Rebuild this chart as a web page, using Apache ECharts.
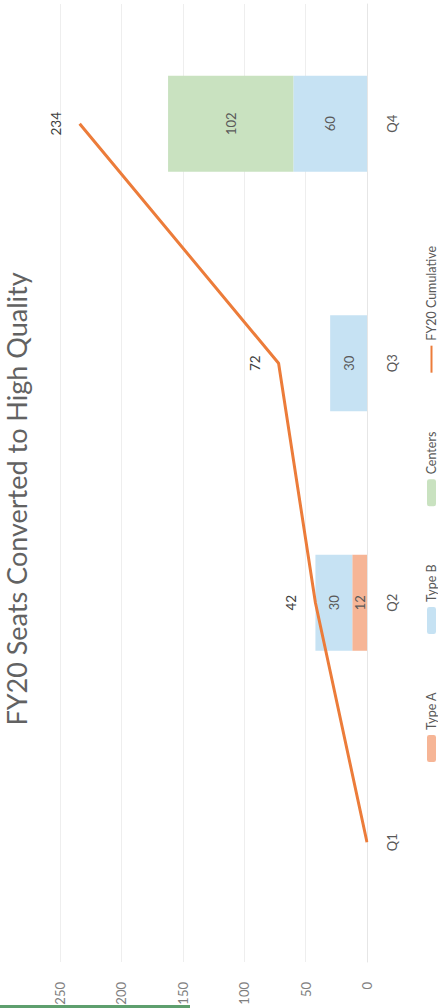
<!DOCTYPE html>
<html>
<head>
<meta charset="utf-8">
<script src="https://cdn.jsdelivr.net/npm/echarts@6/dist/echarts.min.js"></script>
<style>
html,body{margin:0;padding:0;background:#fff;overflow:hidden;width:438px;height:1008px;}
#chart{position:absolute;left:0;top:0;width:1008px;height:438px;transform-origin:0 0;transform:translate(0,1008px) rotate(-90deg);}
</style>
</head>
<body>
<div id="chart"></div>
<script>
var titleText = 'FY20 Seats Converted to High Quality';
var categories = ['Q1', 'Q2', 'Q3', 'Q4'];
var typeA = ['-', 12, '-', '-'];
var typeB = ['-', 30, 30, 60];
var centers = ['-', '-', '-', 102];
var cumulative = [0, 42, 72, 234];
var valueTicks = [0, 50, 100, 150, 200, 250];

var FONT = 'Lato, "Open Sans", sans-serif';
var chart = echarts.init(document.getElementById('chart'), null, {renderer: 'svg', width: 1008, height: 438});
var barLabel = {show: true, position: 'inside', color: '#595959', fontSize: 13, fontFamily: FONT};
chart.setOption({
  animation: false,
  backgroundColor: '#ffffff',
  title: {
    text: titleText, left: 504, top: -2, textAlign: 'center',
    textStyle: {fontFamily: FONT, fontSize: 27, fontWeight: 'normal', color: '#626262'}
  },
  legend: {
    data: ['Type A', 'Type B', 'Centers', {name: 'FY20 Cumulative', itemStyle: {opacity: 0}}],
    left: 'center', top: 420,
    itemWidth: 27, itemHeight: 9, itemGap: 58,
    textStyle: {fontFamily: FONT, fontSize: 12.5, color: '#595959'}
  },
  grid: {left: 46, right: 4, top: 60, bottom: 71},
  xAxis: {
    type: 'category', data: categories,
    axisLine: {show: true, lineStyle: {color: '#e6e6e6'}},
    axisTick: {show: false},
    axisLabel: {margin: 18, fontFamily: FONT, fontSize: 13, color: '#595959'}
  },
  yAxis: {
    type: 'value', min: valueTicks[0], max: valueTicks[valueTicks.length - 1], interval: 50,
    axisLine: {show: false}, axisTick: {show: false},
    splitLine: {lineStyle: {color: '#eeeeee'}},
    axisLabel: {margin: 20, fontFamily: FONT, fontSize: 13, color: '#7f7f7f'}
  },
  series: [
    {name: 'Type A', type: 'bar', stack: 's', data: typeA, barWidth: '40%',
     itemStyle: {color: '#f6b596'}, label: barLabel},
    {name: 'Type B', type: 'bar', stack: 's', data: typeB, barWidth: '40%',
     itemStyle: {color: '#c6e2f3'}, label: barLabel},
    {name: 'Centers', type: 'bar', stack: 's', data: centers, barWidth: '40%',
     itemStyle: {color: '#c9e2c0'}, label: barLabel},
    {name: 'FY20 Cumulative', type: 'line', data: cumulative, symbol: 'circle', symbolSize: 0.01, showSymbol: true,
     lineStyle: {color: '#ec7c3a', width: 3}, itemStyle: {color: '#ec7c3a'},
     label: {show: true, position: 'top', distance: 17, color: '#404040', fontSize: 13.5, fontFamily: FONT,
       formatter: function (p) { return p.value ? String(p.value) : ''; }}}
  ],
  graphic: [{type: 'rect', shape: {x: 0, y: 0, width: 3, height: 190}, style: {fill: '#5e9f6e'}, silent: true}]
});
</script>
</body>
</html>
